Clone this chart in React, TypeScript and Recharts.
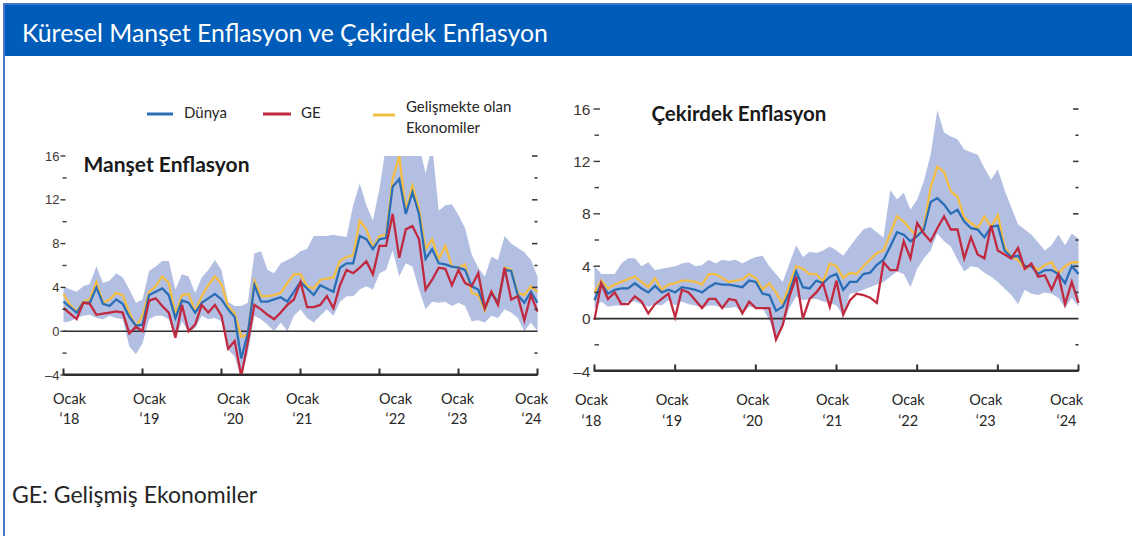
import React from "react";
import { ComposedChart, Area, Line, XAxis, YAxis, ReferenceLine } from "recharts";

// ---------- categories / ticks ----------
const yearTickMonths = [0, 12, 24, 36, 48, 60, 72];
const monthWord = "Ocak";
const yearLabels = ["‘18", "‘19", "‘20", "‘21", "‘22", "‘23", "‘24"];
const yTicks = [-4, -2, 0, 2, 4, 6, 8, 10, 12, 14, 16];

// ---------- Manşet Enflasyon (headline), Jan 2018 - Jan 2024 ----------
const headlineWorld = [
  2.7, 2.2, 1.7, 2.6, 2.6, 4.0, 2.5, 2.3, 2.9, 2.5, 1.3, 0.5,
  0.6, 3.3, 3.6, 3.9, 3.3, 1.2, 2.8, 2.6, 1.7, 2.6, 3.0, 3.4,
  2.9, 2.0, 1.3, -2.5, -0.2, 4.2, 2.7, 2.7, 2.9, 3.1, 2.7, 3.6,
  4.5, 3.9, 3.3, 4.2, 3.9, 3.6, 5.8, 6.2, 6.2, 8.7, 8.4, 7.5,
  8.4, 8.5, 13.2, 13.9, 10.7, 12.7, 10.7, 6.6, 7.5, 6.2, 6.1, 5.9,
  5.8, 5.6, 4.1, 3.8, 2.1, 3.5, 2.6, 5.6, 5.5, 3.3, 2.6, 3.6,
  2.6,
];
const headlineAE = [
  2.1, 1.6, 1.1, 2.6, 2.5, 1.5, 1.6, 1.7, 1.8, 1.7, -0.2, 0.4,
  0.0, 2.8, 3.0, 2.3, 1.7, -0.6, 2.4, 0.0, 0.6, 2.4, 1.7, 2.4,
  1.4, -1.6, -0.9, -4.1, -1.0, 2.4, 2.0, 1.5, 1.1, 1.7, 2.4, 2.9,
  4.5, 2.2, 2.2, 2.4, 3.2, 2.1, 4.2, 5.6, 5.3, 5.8, 6.4, 5.2,
  7.8, 7.8, 10.7, 6.7, 9.3, 9.6, 8.4, 3.8, 4.7, 5.8, 5.7, 4.2,
  5.6, 4.4, 4.1, 5.3, 2.1, 3.6, 2.4, 5.8, 2.9, 3.2, 1.0, 3.3,
  1.8,
];
const headlineEMDE = [
  3.4, 2.4, 1.8, 2.7, 2.9, 4.5, 2.6, 2.9, 3.5, 3.3, 1.7, 0.4,
  1.4, 3.6, 4.1, 5.0, 4.4, 1.5, 3.3, 3.4, 1.8, 3.2, 4.2, 5.0,
  4.3, 2.3, 1.6, -0.5, -0.3, 4.6, 3.2, 3.2, 3.3, 3.5, 4.4, 5.2,
  5.2, 4.1, 3.9, 4.7, 4.8, 4.9, 6.4, 6.8, 6.9, 10.1, 9.3, 7.6,
  8.7, 8.8, 13.9, 16.0, 11.0, 13.3, 11.2, 7.5, 8.4, 6.6, 7.8, 5.9,
  5.8, 6.1, 3.5, 3.3, 1.9, 3.6, 2.6, 5.8, 5.6, 3.5, 3.3, 4.1,
  3.6,
];
const headlineLow = [
  0.8, 0.9, 1.2, 1.4, 1.5, 1.2, 1.1, 1.4, 1.2, 1.1, -1.4, -2.1,
  -1.1, 1.1, 1.4, 1.4, 1.1, -0.7, 0.9, -0.1, 0.3, 1.4, 1.1, 1.2,
  0.9, -1.7, -2.3, -4.3, -2.0, 1.4, 1.1, 0.6, 0.0, 0.8, 0.0, 1.4,
  2.0, 1.2, 0.8, 1.4, 2.0, 1.4, 2.7, 3.2, 3.2, 3.8, 4.1, 3.8,
  5.3, 5.6, 7.4, 5.0, 6.2, 5.9, 3.8, 2.0, 2.7, 2.6, 2.7, 2.3,
  2.6, 2.3, 0.9, 1.0, 0.8, 1.4, 1.2, 2.0, 1.7, 1.2, 0.0, 0.8,
  0.0,
];
const headlineHigh = [
  4.1, 3.8, 3.6, 4.1, 4.3, 5.9, 4.4, 4.6, 5.3, 4.9, 3.8, 2.6,
  2.9, 5.5, 5.9, 6.4, 6.4, 3.8, 5.2, 5.0, 3.5, 4.9, 5.6, 6.5,
  5.6, 2.7, 2.3, 2.3, 2.6, 7.1, 7.3, 5.6, 5.3, 6.2, 6.5, 6.8,
  7.3, 7.5, 8.7, 8.7, 8.7, 8.8, 8.7, 8.6, 11.5, 13.5, 11.5, 10.1,
  13.0, 17, 17, 17, 17, 17, 17, 14.4, 17, 11.0, 11.5, 11.6,
  10.6, 9.4, 7.0, 5.8, 5.0, 6.8, 6.5, 8.7, 8.0, 7.6, 7.2, 6.5,
  5.0,
];

// ---------- Çekirdek Enflasyon (core), Jan 2018 - Jan 2024 ----------
const coreWorld = [
  1.4, 2.7, 1.9, 2.2, 2.3, 2.3, 2.7, 2.3, 2.0, 2.5, 2.0, 2.2,
  2.0, 2.4, 2.3, 2.2, 2.0, 2.4, 2.7, 2.6, 2.6, 2.5, 2.4, 2.9,
  2.8, 1.9, 1.8, 0.6, 0.9, 2.0, 3.6, 2.4, 2.3, 2.9, 2.7, 3.2,
  3.4, 2.2, 2.8, 2.8, 3.4, 3.5, 4.1, 4.5, 5.5, 6.6, 6.4, 5.9,
  6.3, 6.8, 8.9, 9.2, 8.7, 8.0, 8.3, 7.4, 6.9, 6.8, 6.2, 7.0,
  7.1, 5.2, 4.7, 4.8, 4.0, 4.0, 3.4, 3.7, 3.7, 3.4, 2.7, 4.0,
  3.4,
];
const coreAE = [
  -0.1, 2.7, 1.5, 2.0, 1.1, 1.1, 1.7, 1.3, 0.4, 1.1, 1.5, 1.9,
  0.1, 2.2, 2.0, 1.4, 0.8, 1.5, 1.5, 0.8, 1.5, 1.4, 0.4, 1.3,
  0.8, 0.8, 0.8, -1.6, -0.5, 1.7, 3.2, 0.0, 1.5, 2.0, 2.7, 0.9,
  2.9, 0.3, 1.4, 1.9, 1.8, 1.6, 1.2, 4.3, 3.7, 3.7, 5.9, 4.6,
  7.3, 6.5, 5.9, 6.9, 7.8, 6.8, 6.8, 4.6, 6.2, 4.9, 4.6, 7.1,
  5.2, 4.9, 4.6, 5.4, 3.8, 4.2, 3.2, 3.3, 2.2, 3.4, 1.1, 2.8,
  1.2,
];
const coreEMDE = [
  2.0, 2.9, 2.3, 2.6, 2.8, 3.0, 3.2, 2.8, 2.4, 3.1, 2.2, 2.6,
  2.7, 2.9, 2.9, 2.8, 2.6, 3.4, 3.4, 3.1, 2.8, 2.9, 3.0, 3.4,
  3.1, 2.2, 2.7, 2.0, 1.1, 2.6, 4.0, 3.8, 3.4, 3.4, 2.8, 4.2,
  4.0, 3.1, 3.5, 3.4, 4.0, 4.5, 5.0, 5.2, 6.5, 7.8, 7.4, 6.8,
  6.3, 7.0, 10.0, 11.6, 11.2, 9.7, 9.3, 7.7, 7.3, 6.9, 7.8, 7.0,
  7.9, 5.5, 4.7, 4.5, 3.8, 4.1, 3.7, 4.1, 4.3, 3.4, 4.0, 4.3,
  4.3,
];
const coreLow = [
  0.8, 1.3, 0.9, 1.0, 1.0, 1.3, 1.3, 1.1, 0.9, 1.1, 1.0, 1.4,
  1.0, 1.3, 1.1, 1.0, 0.8, 1.0, 1.0, 0.8, 0.8, 0.9, 0.4, 0.9,
  0.8, 0.8, -0.1, -1.7, -0.6, 0.8, 1.7, 1.4, 1.5, 1.5, 1.3, 1.2,
  1.0, 0.2, 1.9, 2.0, 2.2, 2.4, 2.6, 2.8, 3.2, 3.6, 3.4, 2.4,
  3.8, 4.6, 5.2, 6.5, 5.9, 5.5, 4.5, 3.6, 4.0, 3.9, 3.5, 3.2,
  2.8, 2.3, 1.8, 1.1, 2.2, 1.9, 1.8, 2.0, 1.9, 1.6, 0.8, 1.6,
  0.9,
];
const coreHigh = [
  4.0, 3.4, 3.4, 3.4, 4.2, 4.6, 4.6, 4.0, 4.3, 3.7, 3.8, 3.9,
  4.0, 4.2, 4.3, 4.0, 4.1, 4.5, 4.2, 4.5, 4.4, 4.5, 4.2, 4.5,
  4.7, 4.8, 4.0, 3.4, 2.8, 4.2, 5.6, 4.7, 5.1, 5.0, 5.2, 5.5,
  5.2, 4.8, 5.5, 6.2, 6.8, 7.0, 6.6, 6.2, 9.8, 9.1, 9.6, 8.3,
  9.1, 10.5, 12.5, 15.9, 14.2, 13.9, 13.7, 12.9, 12.7, 12.5, 11.5, 10.6,
  11.4, 9.8, 8.5, 7.2, 6.8, 6.4, 5.8, 5.2, 5.6, 6.4, 5.6, 6.5,
  6.1,
];

// ---------- styles ----------
const C_WORLD = "#2a6fb6";
const C_AE = "#c1293f";
const C_EMDE = "#f4be45";
const C_BAND = "#b2bee2";
const C_AXIS = "#2e2e2e";
const TXT = "#262626";
const FONT = "Lato, 'Open Sans', sans-serif";
const NUMFONT = "'Liberation Sans', Arial, sans-serif";

type Row = { m: number; world: number; ae: number; emde: number; band: [number, number] };

function buildRows(world: number[], ae: number[], emde: number[], lo: number[], hi: number[]): Row[] {
  return world.map((w, i) => ({ m: i, world: w, ae: ae[i], emde: emde[i], band: [lo[i], hi[i]] }));
}

const headlineRows = buildRows(headlineWorld, headlineAE, headlineEMDE, headlineLow, headlineHigh);
const coreRows = buildRows(coreWorld, coreAE, coreEMDE, coreLow, coreHigh);

type YStyle = { fs: number; gap: number; majA: number; majB: number; minA: number; minB: number };

function makeYTickLeft(s: YStyle) {
  return (props: any) => {
    const { x, y, payload } = props;
    const v = Number(payload.value);
    const major = v % 4 === 0;
    return (
      <g>
        <line x1={x + (major ? s.majA : s.minA)} x2={x + (major ? s.majB : s.minB)} y1={y} y2={y} stroke="#3a3a3a" strokeWidth={1.4} />
        {major && (
          <text x={x - s.gap} y={y} dy="0.36em" textAnchor="end" fontSize={s.fs} fontFamily={NUMFONT} fill="#3d3630">
            {v < 0 ? "–" + Math.abs(v) : String(v)}
          </text>
        )}
      </g>
    );
  };
}

function YTickRight(props: any) {
  const { x, y, payload } = props;
  const v = Number(payload.value);
  if (v === -4 || v === 0) return <g />;
  const major = v % 4 === 0;
  return <line x1={x - (major ? 5.5 : 3)} x2={x} y1={y} y2={y} stroke="#3a3a3a" strokeWidth={1.6} />;
}

function makeXTick(labelDx: number[], dy1: number, dy2: number) {
  return (props: any) => {
    const { x, y, payload } = props;
    const idx = yearTickMonths.indexOf(Number(payload.value));
    const dx = idx >= 0 ? labelDx[idx] : 0;
    return (
      <g>
        <rect x={x - 1} y={y - 6.5} width={2} height={6.5} fill={C_AXIS} />
        <text x={x + dx} y={y + dy1} textAnchor="middle" fontSize={14.5} fontFamily={FONT} fill={TXT}>{monthWord}</text>
        <text x={x + dx} y={y + dy2} textAnchor="middle" fontSize={14.5} fontFamily={FONT} fill={TXT}>{idx >= 0 ? yearLabels[idx] : ""}</text>
      </g>
    );
  };
}

type PanelProps = {
  left: number; width: number; height: number;
  margin: { top: number; right: number; bottom: number; left: number };
  xAxisHeight: number; rows: Row[]; yStyle: YStyle; labelDx: number[]; dy1: number; dy2: number;
};

function Panel(p: PanelProps) {
  return (
    <div style={{ position: "absolute", left: p.left, top: 0 }}>
      <ComposedChart width={p.width} height={p.height} data={p.rows} margin={p.margin}>
        <XAxis dataKey="m" type="number" domain={[0, 72]} ticks={yearTickMonths} interval={0} height={p.xAxisHeight}
          tickSize={0} tickMargin={0} tickLine={false} axisLine={{ stroke: C_AXIS, strokeWidth: 2 }}
          tick={makeXTick(p.labelDx, p.dy1, p.dy2)} />
        <YAxis yAxisId="l" domain={[-4, 16]} ticks={yTicks} interval={0} width={1} tickSize={0} tickMargin={0}
          axisLine={false} tickLine={false} allowDataOverflow tick={makeYTickLeft(p.yStyle)} />
        <YAxis yAxisId="r" orientation="right" domain={[-4, 16]} ticks={yTicks} interval={0} width={1} tickSize={0}
          tickMargin={0} axisLine={false} tickLine={false} allowDataOverflow tick={YTickRight} />
        <Area yAxisId="l" dataKey="band" type="linear" stroke="none" fill={C_BAND} fillOpacity={1} dot={false} activeDot={false} isAnimationActive={false} />
        <ReferenceLine yAxisId="l" y={0} stroke="#2e2e2e" strokeWidth={1.6} />
        <ReferenceLine yAxisId="l" y={-3.96} stroke={C_AXIS} strokeWidth={2} />
        <Line yAxisId="l" dataKey="emde" type="linear" stroke={C_EMDE} strokeWidth={2.3} dot={false} activeDot={false} isAnimationActive={false} />
        <Line yAxisId="l" dataKey="world" type="linear" stroke={C_WORLD} strokeWidth={2.3} dot={false} activeDot={false} isAnimationActive={false} />
        <Line yAxisId="l" dataKey="ae" type="linear" stroke={C_AE} strokeWidth={2.3} dot={false} activeDot={false} isAnimationActive={false} />
      </ComposedChart>
    </div>
  );
}

export default function App() {
  return (
    <div style={{ position: "absolute", left: 0, top: 0, width: 1132, height: 536, background: "#ffffff", overflow: "hidden", fontFamily: FONT }}>
      <div style={{ position: "absolute", left: 3, top: 3, width: 2, height: 533, background: "#4a78c8" }} />
      <div style={{ position: "absolute", left: 5, top: 3, width: 1127, height: 2, background: "#3d74c8" }} />
      <div style={{ position: "absolute", left: 5, top: 5, width: 1127, height: 51, background: "#005cb9" }} />
      <Panel left={0} width={560} height={440} margin={{ top: 156, right: 21.5, bottom: 6, left: 62.5 }} xAxisHeight={59}
        rows={headlineRows} yStyle={{ fs: 13, gap: 4, majA: -3, majB: 2, minA: -1, minB: 3 }}
        labelDx={[6, 7, 12, 2, 16, -1, -6]} dy1={28.5} dy2={48.5} />
      <Panel left={560} width={572} height={440} margin={{ top: 109, right: 52.5, bottom: 6, left: 33.5 }} xAxisHeight={63}
        rows={coreRows} yStyle={{ fs: 15.5, gap: 4, majA: -1, majB: 5.5, minA: 0, minB: 4.5 }}
        labelDx={[-3, -3, -3, -4, -9, -12, -12]} dy1={33.5} dy2={55} />
      <svg width={1132} height={536} style={{ position: "absolute", left: 0, top: 0, pointerEvents: "none" }}>
        <text x={22} y={42} fontSize={24.8} fontFamily={FONT} fill="#ffffff">Küresel Manşet Enflasyon ve Çekirdek Enflasyon</text>
        <line x1={147} x2={173} y1={114} y2={114} stroke={C_WORLD} strokeWidth={3} />
        <text x={184} y={118} fontSize={15} fontFamily={FONT} fill={TXT}>Dünya</text>
        <line x1={263} x2={291} y1={114} y2={114} stroke={C_AE} strokeWidth={3} />
        <text x={301} y={118} fontSize={15} fontFamily={FONT} fill={TXT}>GE</text>
        <line x1={373} x2={395} y1={115} y2={115} stroke={C_EMDE} strokeWidth={3} />
        <text x={406} y={111.5} fontSize={15} fontFamily={FONT} fill={TXT}>Gelişmekte olan</text>
        <text x={406} y={132.5} fontSize={15} fontFamily={FONT} fill={TXT}>Ekonomiler</text>
        <text x={83.5} y={171.5} fontSize={21} fontWeight={700} fontFamily={FONT} fill="#1a1a1a">Manşet Enflasyon</text>
        <text x={651.5} y={120.5} fontSize={20.5} fontWeight={700} fontFamily={FONT} fill="#1a1a1a">Çekirdek Enflasyon</text>
        <text x={12} y={503} fontSize={23} fontFamily={FONT} fill={TXT}>GE: Gelişmiş Ekonomiler</text>
      </svg>
    </div>
  );
}
